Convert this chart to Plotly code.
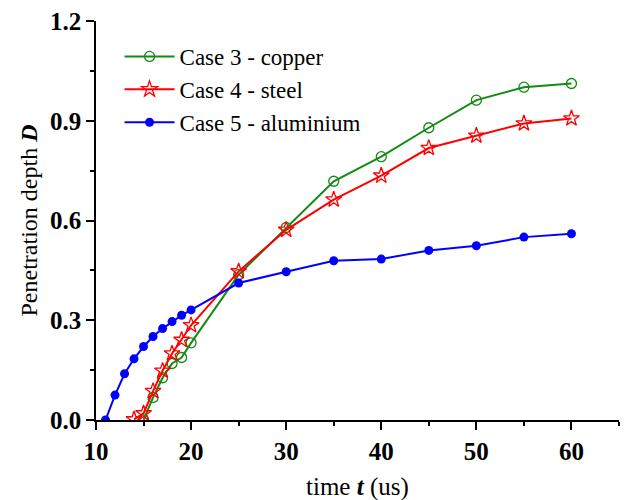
import plotly.graph_objects as go

t_copper = [15, 16, 17, 18, 19, 20, 25, 30, 35, 40, 45, 50, 55, 60]
d_copper = [0.0, 0.068, 0.127, 0.170, 0.188, 0.232, 0.437, 0.579, 0.718, 0.792, 0.879, 0.962, 1.001, 1.012]

t_steel = [14, 15, 16, 17, 18, 19, 20, 25, 30, 35, 40, 45, 50, 55, 60]
d_steel = [0.002, 0.02, 0.087, 0.148, 0.200, 0.241, 0.285, 0.447, 0.572, 0.663, 0.735, 0.818, 0.855, 0.892, 0.907]

t_alu = [11, 12, 13, 14, 15, 16, 17, 18, 19, 20, 25, 30, 35, 40, 45, 50, 55, 60]
d_alu = [0.0, 0.075, 0.139, 0.184, 0.221, 0.251, 0.275, 0.296, 0.315, 0.331, 0.412, 0.446, 0.479, 0.484, 0.510, 0.524, 0.550, 0.560]

x_ticks = [10, 20, 30, 40, 50, 60]
y_ticks = [0.0, 0.3, 0.6, 0.9, 1.2]
y_tick_labels = ["0.0", "0.3", "0.6", "0.9", "1.2"]

SERIF = "Liberation Serif, Times New Roman, serif"

fig = go.Figure()
fig.add_trace(go.Scatter(
    x=t_copper, y=d_copper, mode="lines+markers", name="Case 3 - copper",
    line=dict(color="#138a13", width=2),
    marker=dict(symbol="circle-open", size=10, color="#138a13", line=dict(width=1.3)),
))
fig.add_trace(go.Scatter(
    x=t_steel, y=d_steel, mode="lines+markers", name="Case 4 - steel",
    line=dict(color="#ff0000", width=2),
    marker=dict(symbol="star-open", size=12, color="#ff0000", line=dict(width=1.3)),
))
fig.add_trace(go.Scatter(
    x=t_alu, y=d_alu, mode="lines+markers", name="Case 5 - aluminium",
    line=dict(color="#0000ff", width=2),
    marker=dict(symbol="circle", size=9, color="#0000ff"),
))

fig.update_layout(
    width=628, height=500,
    margin=dict(l=96, r=9, t=21, b=80),
    paper_bgcolor="white", plot_bgcolor="white",
    font=dict(family=SERIF, color="black"),
    showlegend=True,
    legend=dict(
        x=0.045, y=0.965, xanchor="left", yanchor="top",
        bgcolor="rgba(0,0,0,0)",
        font=dict(family=SERIF, size=23, color="black"),
        itemwidth=50, tracegroupgap=0,
    ),
    xaxis=dict(
        range=[10, 65], tickvals=x_ticks, showgrid=False, zeroline=False, automargin=False,
        showline=True, linecolor="black", linewidth=1.5, ticklabeloverflow="allow",
        ticks="outside", ticklen=8, tickwidth=1.5, tickcolor="black",
        tickfont=dict(family=SERIF, size=25, weight="bold"),
        minor=dict(dtick=5, tick0=10, ticks="outside", ticklen=4, tickwidth=1.5, tickcolor="black", showgrid=False),
    ),
    yaxis=dict(
        range=[0, 1.2], tickvals=y_ticks, ticktext=y_tick_labels, showgrid=False, zeroline=False, automargin=False,
        showline=True, linecolor="black", linewidth=1.5, ticklabeloverflow="allow",
        ticks="outside", ticklen=8, tickwidth=1.5, tickcolor="black",
        tickfont=dict(family=SERIF, size=25, weight="bold"),
        minor=dict(dtick=0.15, tick0=0, ticks="outside", ticklen=4, tickwidth=1.5, tickcolor="black", showgrid=False),
        title=dict(text="Penetration depth <b><i>D</i></b>", font=dict(family=SERIF, size=24), standoff=6),
    ),
    annotations=[dict(
        text="time <b><i>t</i></b> (us)", xref="paper", yref="paper",
        x=0.5, y=-0.167, xanchor="center", yanchor="middle", showarrow=False,
        font=dict(family=SERIF, size=25, color="black"),
    )],
)

fig.write_html(
    "out.html",
    config={"displayModeBar": False},
    post_script="document.body.style.margin='0';document.body.style.overflow='hidden';",
)
